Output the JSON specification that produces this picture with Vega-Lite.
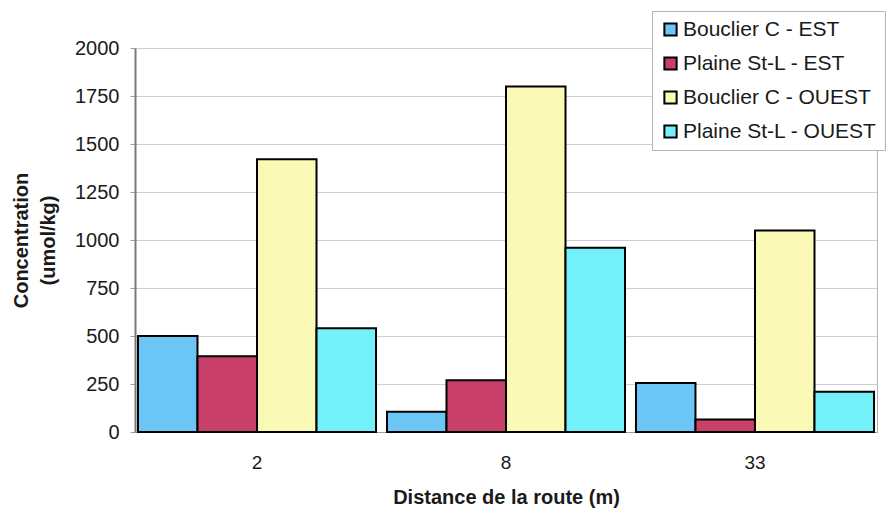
{
  "$schema": "https://vega.github.io/schema/vega-lite/v6.json",
  "width": 742,
  "height": 384,
  "autosize": {"type": "none"},
  "padding": {"left": 135, "top": 48, "right": 14, "bottom": 80},
  "background": "white",
  "config": {
    "font": "Liberation Sans",
    "view": {"stroke": "#b4b4b4", "strokeWidth": 1}
  },
  "data": {
    "values": [
      {"distance": "2", "serie": "Bouclier C - EST", "concentration": 500},
      {"distance": "2", "serie": "Plaine St-L - EST", "concentration": 395},
      {"distance": "2", "serie": "Bouclier C - OUEST", "concentration": 1420},
      {"distance": "2", "serie": "Plaine St-L - OUEST", "concentration": 540},
      {"distance": "8", "serie": "Bouclier C - EST", "concentration": 105},
      {"distance": "8", "serie": "Plaine St-L - EST", "concentration": 270},
      {"distance": "8", "serie": "Bouclier C - OUEST", "concentration": 1800},
      {"distance": "8", "serie": "Plaine St-L - OUEST", "concentration": 960},
      {"distance": "33", "serie": "Bouclier C - EST", "concentration": 255},
      {"distance": "33", "serie": "Plaine St-L - EST", "concentration": 65},
      {"distance": "33", "serie": "Bouclier C - OUEST", "concentration": 1050},
      {"distance": "33", "serie": "Plaine St-L - OUEST", "concentration": 210}
    ]
  },
  "mark": {"type": "bar", "stroke": "black", "strokeWidth": 2},
  "encoding": {
    "x": {
      "field": "distance",
      "type": "nominal",
      "sort": ["2", "8", "33"],
      "scale": {"paddingInner": 0.044, "paddingOuter": 0.012},
      "axis": {
        "title": "Distance de la route (m)",
        "titleFontSize": 20,
        "titleFontWeight": "bold",
        "titleColor": "#1a1a1a",
        "titlePadding": 15,
        "labelAngle": 0,
        "labelFontSize": 19,
        "labelColor": "#1a1a1a",
        "labelPadding": 21,
        "ticks": false,
        "domainColor": "#a0a0a0",
        "domainWidth": 1
      }
    },
    "xOffset": {
      "field": "serie",
      "type": "nominal",
      "sort": ["Bouclier C - EST", "Plaine St-L - EST", "Bouclier C - OUEST", "Plaine St-L - OUEST"],
      "scale": {"paddingInner": 0, "paddingOuter": 0}
    },
    "y": {
      "field": "concentration",
      "type": "quantitative",
      "scale": {"domain": [0, 2000], "nice": false},
      "axis": {
        "values": [0, 250, 500, 750, 1000, 1250, 1500, 1750, 2000],
        "format": "d",
        "title": ["Concentration", "(umol/kg)"],
        "titleFontSize": 20,
        "titleFontWeight": "bold",
        "titleColor": "#1a1a1a",
        "titleLineHeight": 27,
        "titlePadding": 16,
        "labelFontSize": 20,
        "labelColor": "#1a1a1a",
        "labelPadding": 11,
        "tickSize": 5,
        "tickColor": "#a0a0a0",
        "domainColor": "#7a7a7a",
        "domainWidth": 2,
        "grid": true,
        "gridColor": "#cfcfcf",
        "gridWidth": 1
      }
    },
    "fill": {
      "field": "serie",
      "type": "nominal",
      "sort": ["Bouclier C - EST", "Plaine St-L - EST", "Bouclier C - OUEST", "Plaine St-L - OUEST"],
      "scale": {
        "domain": ["Bouclier C - EST", "Plaine St-L - EST", "Bouclier C - OUEST", "Plaine St-L - OUEST"],
        "range": ["#6cc6f5", "#c8406a", "#fafab6", "#74f0fa"]
      },
      "legend": {
        "title": null,
        "orient": "none",
        "legendX": 517,
        "legendY": -37,
        "fillColor": "white",
        "strokeColor": "#b4b4b4",
        "padding": 8,
        "symbolType": "square",
        "symbolSize": 150,
        "symbolStrokeColor": "black",
        "symbolStrokeWidth": 2,
        "labelFontSize": 21,
        "labelColor": "#1a1a1a",
        "labelOffset": 2,
        "rowPadding": 12,
        "labelLimit": 400
      }
    }
  }
}
